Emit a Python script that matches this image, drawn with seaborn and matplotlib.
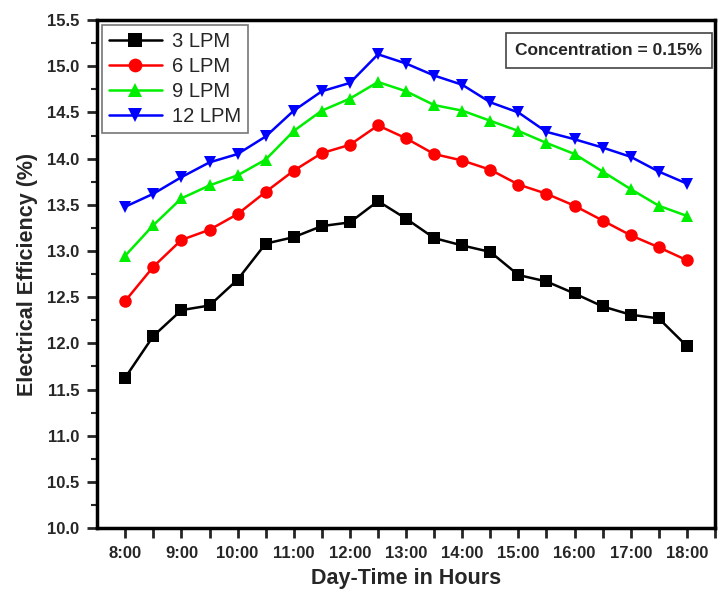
import numpy as np
import pandas as pd
import matplotlib.pyplot as plt
import seaborn as sns

# half-hour readings from 8:00 to 18:00
hours = [8.0, 8.5, 9.0, 9.5, 10.0, 10.5, 11.0, 11.5, 12.0, 12.5, 13.0,
         13.5, 14.0, 14.5, 15.0, 15.5, 16.0, 16.5, 17.0, 17.5, 18.0]

lpm_3 = [11.63, 12.08, 12.36, 12.41, 12.69, 13.08, 13.15, 13.27, 13.31, 13.54, 13.35,
         13.14, 13.06, 12.99, 12.74, 12.67, 12.54, 12.40, 12.31, 12.27, 11.97]
lpm_6 = [12.46, 12.83, 13.12, 13.23, 13.40, 13.64, 13.87, 14.06, 14.15, 14.36, 14.22,
         14.05, 13.98, 13.88, 13.72, 13.62, 13.49, 13.33, 13.17, 13.04, 12.90]
lpm_9 = [12.95, 13.28, 13.57, 13.71, 13.82, 13.99, 14.30, 14.52, 14.65, 14.83, 14.73,
         14.58, 14.52, 14.41, 14.30, 14.17, 14.05, 13.86, 13.67, 13.49, 13.38]
lpm_12 = [13.48, 13.62, 13.80, 13.96, 14.05, 14.24, 14.52, 14.73, 14.82, 15.13, 15.03,
          14.90, 14.80, 14.61, 14.50, 14.29, 14.21, 14.12, 14.02, 13.86, 13.73]

series_names = ["3 LPM", "6 LPM", "9 LPM", "12 LPM"]
hour_labels = ["8:00", "9:00", "10:00", "11:00", "12:00", "13:00",
               "14:00", "15:00", "16:00", "17:00", "18:00"]

colors = {"3 LPM": "#000000", "6 LPM": "#ff0000", "9 LPM": "#00ee00", "12 LPM": "#0000ff"}
markers = {"3 LPM": "s", "6 LPM": "o", "9 LPM": "^", "12 LPM": "v"}

frames = []
for name, vals in zip(series_names, [lpm_3, lpm_6, lpm_9, lpm_12]):
    frames.append(pd.DataFrame({"hour": hours, "eff": vals, "flow": name}))
df = pd.concat(frames, ignore_index=True)

sns.set_style("ticks")
plt.rcParams["font.family"] = ["Liberation Sans", "DejaVu Sans"]

fig = plt.figure(figsize=(7.2, 5.92), dpi=100)
ax = fig.add_axes([0.135, 0.108, 0.858, 0.858])

sns.lineplot(data=df, x="hour", y="eff", hue="flow", style="flow",
             hue_order=series_names, style_order=series_names,
             palette=colors, markers=markers, dashes=False,
             markersize=9, markeredgewidth=0, linewidth=1.8, ax=ax)

ax.set_xlim(7.5, 18.5)
ax.set_ylim(10.0, 15.5)

# ticks every half hour, labels on the hour only
xticks = np.arange(8.0, 18.51, 0.5)
ax.set_xticks(xticks)
ax.set_xticklabels([hour_labels[i // 2] if i % 2 == 0 and i // 2 < len(hour_labels) else ""
                    for i in range(len(xticks))])
ax.set_yticks(np.arange(10.0, 15.51, 0.5))
ax.set_yticks(np.arange(10.25, 15.5, 0.5), minor=True)
ax.set_yticklabels([f"{v:.1f}" for v in np.arange(10.0, 15.51, 0.5)])

ax.tick_params(axis="both", which="major", direction="out", length=7, width=2,
               labelsize=12, pad=6)
ax.tick_params(axis="y", which="minor", direction="out", length=4, width=1.5)
for lab in ax.get_xticklabels() + ax.get_yticklabels():
    lab.set_fontweight("bold")

for side in ["top", "right", "left", "bottom"]:
    ax.spines[side].set_visible(True)
    ax.spines[side].set_linewidth(2.5)
    ax.spines[side].set_color("black")

ax.set_xlabel("Day-Time in Hours", fontsize=15.5, fontweight="bold", labelpad=5)
ax.set_ylabel("Electrical Efficiency (%)", fontsize=15.5, fontweight="bold", labelpad=6)

leg = ax.legend(loc="upper left", fontsize=14.5, frameon=True, fancybox=False,
                borderaxespad=0.25, handlelength=2.6, labelspacing=0.3,
                handletextpad=0.5, borderpad=0.35, markerscale=1.1, title=None)
leg.get_frame().set_edgecolor("#555555")
leg.get_frame().set_linewidth(1.2)

ax.text(0.98, 0.955, "Concentration = 0.15%", transform=ax.transAxes,
        ha="right", va="top", fontsize=12.5, fontweight="bold",
        bbox=dict(boxstyle="square,pad=0.55", facecolor="white",
                  edgecolor="#444444", linewidth=1.2))

fig.savefig("out.png", dpi=100)
